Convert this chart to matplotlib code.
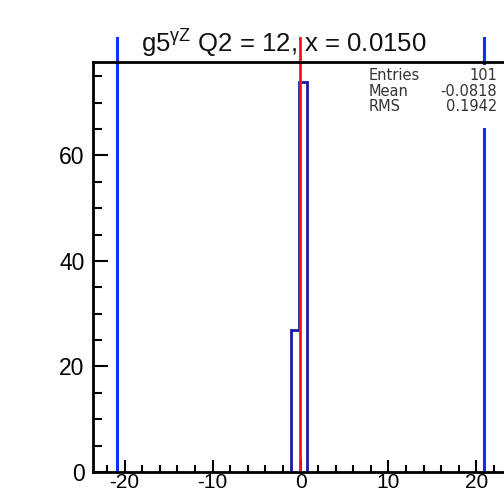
import matplotlib
matplotlib.use("Agg")
import matplotlib.pyplot as plt
import numpy as np
from matplotlib.ticker import MultipleLocator

# ---- data ----
bin_edges = [-1.1, -0.2, 0.7]
bin_counts = [27, 74]
mean_line = -0.0818
limit_lines = [-20.9, 20.9]
stats_names = ["Entries", "Mean", "RMS"]
stats_values = ["101", "-0.0818", "0.1942"]
x_range = (-23.6, 23.6)
y_range = (0, 77.7)
line_top = 82.2

plt.rcParams['font.family'] = ['Liberation Sans', 'DejaVu Sans']
plt.rcParams['mathtext.fontset'] = 'custom'
plt.rcParams['mathtext.rm'] = 'Liberation Sans'

W, H = 504, 493
fig = plt.figure(figsize=(W / 100, H / 100), dpi=100)
left, right, top, bottom = 93, 508, 62, 472
ax = fig.add_axes([left / W, 1 - bottom / H, (right - left) / W, (bottom - top) / H])

ax.set_xlim(*x_range)
ax.set_ylim(*y_range)

ax.stairs(bin_counts, bin_edges, color='#1a1aa0', linewidth=2.0, zorder=3)

for xv in limit_lines:
    ax.plot([xv, xv], [0, line_top], color='#1030ff', linewidth=2.2, clip_on=False, zorder=2)
ax.plot([mean_line, mean_line], [0, line_top], color='#ff1010', linewidth=2.0, clip_on=False, zorder=4)

for s in ['top', 'bottom', 'left', 'right']:
    ax.spines[s].set_linewidth(2.0)
    ax.spines[s].set_zorder(12)
ax.xaxis.set_major_locator(MultipleLocator(10))
ax.xaxis.set_minor_locator(MultipleLocator(2))
ax.yaxis.set_major_locator(MultipleLocator(20))
ax.yaxis.set_minor_locator(MultipleLocator(5))
ax.tick_params(axis='x', which='major', direction='in', length=8.4, width=1.5, labelsize=15, pad=1)
ax.tick_params(axis='x', which='minor', direction='in', length=5, width=1.5)
ax.tick_params(axis='y', which='major', direction='in', length=10.6, width=1.5, labelsize=16.5, pad=6)
ax.tick_params(axis='y', which='minor', direction='in', length=6.5, width=1.5)
ax.xaxis.set_major_formatter(matplotlib.ticker.FuncFormatter(lambda v, p: f"{int(v)}"))

# title
fig.text(284 / W, 1 - 53 / H, "g5$\\mathregular{^{\u03b3Z}}$ Q2 = 12, x = 0.0150",
         ha='center', va='baseline', fontsize=18.5, color='#111111')

# stats box
box = plt.Rectangle((365 / W, 1 - 128 / H), (W - 365) / W, (128 - 65) / H,
                    transform=fig.transFigure, facecolor='white', edgecolor='none', zorder=10)
fig.add_artist(box)
ys = [80, 96, 111]
for name, val, yy in zip(stats_names, stats_values, ys):
    fig.text(369 / W, 1 - yy / H, name, ha='left', va='baseline', fontsize=10.5,
             family='DejaVu Sans', color='#333333', zorder=11)
    fig.text(497 / W, 1 - yy / H, val, ha='right', va='baseline', fontsize=10.5,
             family='DejaVu Sans', color='#333333', zorder=11)

fig.savefig("out.png", dpi=100)
